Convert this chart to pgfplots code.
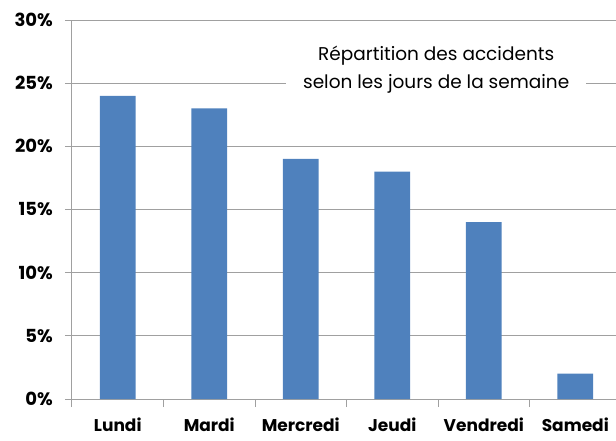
\documentclass[border=0pt]{standalone}
\usepackage{pgfplots}
\pgfplotsset{compat=1.18}
\usepackage{fontspec}
\setmainfont{Poppins}
\definecolor{barblue}{RGB}{79,129,189}
\definecolor{gridgray}{RGB}{160,160,160}
\begin{document}
\begin{tikzpicture}
\path[use as bounding box] (-72pt,-41pt) rectangle (544pt,399pt);
\begin{axis}[
  at={(0,0)}, anchor=south west,
  scale only axis,
  width=544pt, height=379pt,
  xmin=-0.5, xmax=5.445,
  ymin=0, ymax=30,
  axis lines*=left,
  axis line style={draw=gridgray, line width=1pt},
  ytick={0,5,...,30},
  yticklabel={\pgfmathprintnumber{\tick}\%},
  ymajorgrids,
  grid style={draw=gridgray, line width=1pt},
  xtick={0,1,2,3,4,5},
  xticklabels={Lundi,Mardi,Mercredi,Jeudi,Vendredi,Samedi},
  minor xtick={-0.5,0.5,1.5,2.5,3.5,4.5},
  major x tick style={draw=none},
  minor x tick style={draw=gridgray, line width=1pt},
  major y tick style={draw=gridgray, line width=1pt},
  tick align=outside,
  major tick length=7pt, minor tick length=8pt,
  x tick label style={font=\fontsize{17}{20}\selectfont\bfseries, anchor=center, yshift=-19pt},
  y tick label style={font=\fontsize{18}{21}\selectfont\bfseries, anchor=east, inner sep=0pt, xshift=-12pt},
  /pgf/number format/assume math mode=true,
  clip=false,
]
\addplot[ybar, bar width=0.39, fill=barblue, draw=none] coordinates {
  (0,24) (1,23) (2,19) (3,18) (4,14) (5,2)
};
\node[fill=white, align=center, inner xsep=17pt, inner ysep=4pt,
      font=\fontsize{18.5}{28}\selectfont]
  at (axis cs:3.48,26.1) {Répartition des accidents\\selon les jours de la semaine};
\end{axis}
\end{tikzpicture}
\end{document}
